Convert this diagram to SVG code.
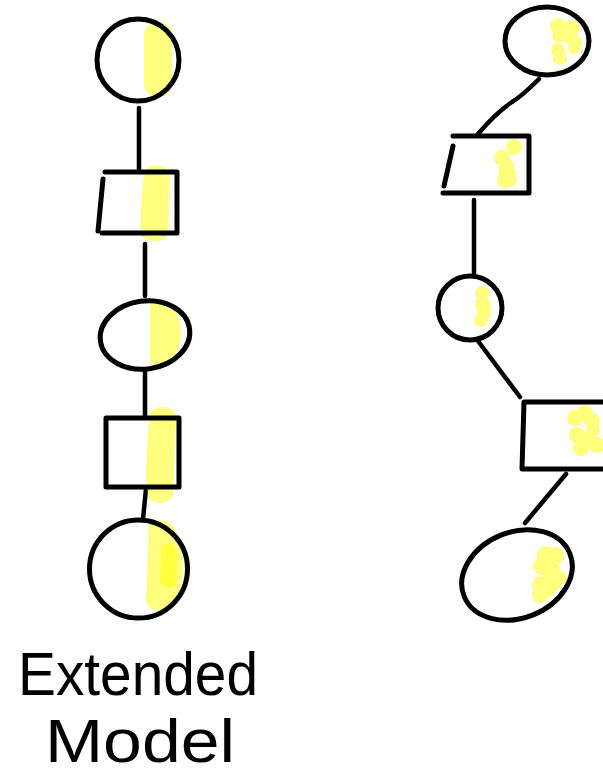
<svg xmlns="http://www.w3.org/2000/svg" width="603" height="778" viewBox="0 0 603 778">
<style>
.s{fill:none;stroke:#000;stroke-width:5;stroke-linecap:round;stroke-linejoin:round}
.c{fill:none;stroke:#000;stroke-width:4.5;stroke-linecap:round}
.y{fill:#ffff00;opacity:0.5}
.t{font-family:"Liberation Sans",Arial,sans-serif;font-size:62px;fill:#000}
</style>
<rect width="603" height="778" fill="#fff"/>
<g id="connectors">
<path class="c" d="M139,108 L139,172"/>
<path class="c" d="M145,244 L145,296"/>
<path class="c" d="M145,371 L145,417"/>
<path class="c" d="M146,489 L143,519"/>
<path class="c" d="M539,79 C530,88 522,96 512,102 C500,110 488,122 478,134"/>
<path class="c" d="M474,200 L474,276"/>
<path class="c" d="M478,341 L520,397"/>
<path class="c" d="M566,474 L525,523"/>
</g>
<g id="left1">
<rect class="y" x="144" y="22" width="28" height="75" rx="13"/>
<circle class="s" cx="138" cy="60" r="41"/>
</g>
<g id="left2">
<path class="y" d="M148,167 C160,163 170,168 170,178 L168,232 C166,243 150,244 141,236 C140,215 142,190 144,176 Z"/>
<path class="s" d="M105,172 L177,172 L177,233 L102,233 M103,179 L98,231"/>
</g>
<g id="left3">
<path class="y" d="M150,300 C165,297 178,302 178,318 C184,330 180,350 172,362 C165,369 152,368 150,360 Z"/>
<ellipse class="s" cx="145" cy="335" rx="45" ry="34" transform="rotate(-8 145 335)"/>
</g>
<g id="left4">
<path class="y" d="M150,412 C158,404 176,405 176,418 L173,495 C170,505 152,505 148,496 L146,480 C146,460 148,430 150,412 Z"/>
<rect class="s" x="106" y="418" width="73" height="69"/>
</g>
<g id="left5">
<path class="y" d="M149,524 C160,517 176,520 178,540 C186,560 184,590 174,604 C164,614 148,612 146,600 Z"/>
<path class="y" d="M162,545 C172,540 178,548 177,560 L176,585 C170,590 160,588 160,578 Z"/>
<circle class="s" cx="138.5" cy="569" r="49"/>
</g>
<g id="right1">
<g class="y">
<circle cx="558" cy="26" r="8"/><circle cx="559" cy="36" r="7"/><circle cx="572" cy="28" r="8"/><circle cx="571" cy="38" r="7"/><circle cx="575" cy="43" r="7"/><circle cx="558" cy="50" r="7"/><circle cx="560" cy="58" r="7"/><circle cx="574" cy="48" r="6"/>
</g>
<ellipse class="s" cx="547" cy="41" rx="42" ry="34"/>
</g>
<g id="right2">
<g class="y">
<circle cx="514" cy="147" r="8"/><circle cx="502" cy="158" r="8"/><circle cx="506" cy="166" r="8"/><circle cx="507" cy="174" r="9"/><circle cx="505" cy="180" r="8"/><circle cx="510" cy="180" r="7"/><circle cx="506" cy="176" r="6"/>
</g>
<path class="s" d="M453,136 L529,136 L529,193 L443,193 M453,146 L444,186"/>
</g>
<g id="right3">
<g class="y">
<circle cx="482" cy="293" r="7"/><circle cx="483" cy="305" r="8"/><circle cx="484" cy="313" r="7"/><circle cx="481" cy="320" r="7"/>
</g>
<circle class="s" cx="470" cy="308" r="32"/>
</g>
<g id="right4">
<g class="y">
<circle cx="575" cy="418" r="8"/><circle cx="585" cy="413" r="8"/><circle cx="592" cy="421" r="8"/><circle cx="577" cy="435" r="8"/><circle cx="588" cy="440" r="9"/><circle cx="597" cy="445" r="8"/><circle cx="581" cy="448" r="8"/><circle cx="593" cy="430" r="7"/>
</g>
<path class="s" d="M605,402 L524,402 L522,469 L605,469"/>
</g>
<g id="right5">
<g class="y">
<circle cx="546" cy="555" r="9"/><circle cx="555" cy="556" r="9"/><circle cx="542" cy="566" r="9"/><circle cx="551" cy="570" r="9"/><circle cx="553" cy="582" r="9"/><circle cx="560" cy="578" r="7"/><circle cx="541" cy="585" r="9"/><circle cx="540" cy="595" r="8"/><circle cx="548" cy="590" r="7"/>
</g>
<ellipse class="s" cx="517" cy="575" rx="57" ry="43" transform="rotate(-22 517 575)"/>
</g>
<text class="t" x="18" y="695" textLength="240" lengthAdjust="spacingAndGlyphs">Extended</text>
<text class="t" x="45" y="762" textLength="190" lengthAdjust="spacingAndGlyphs">Model</text>
</svg>
